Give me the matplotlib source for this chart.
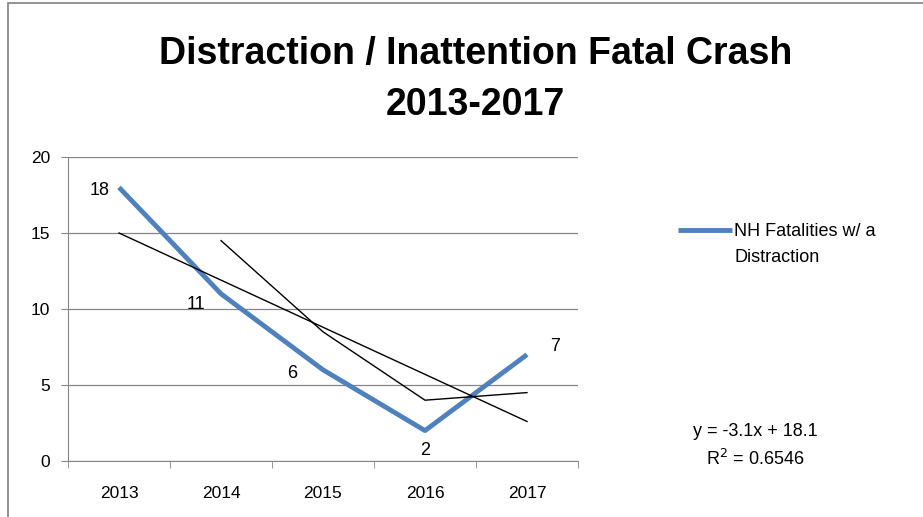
import matplotlib.pyplot as plt
from matplotlib.patches import Rectangle

years = ['2013', '2014', '2015', '2016', '2017']
fatalities = [18, 11, 6, 2, 7]
# linear trend (y = -3.1x + 18.1)
trend = [15.0, 11.9, 8.8, 5.7, 2.6]
# 2-period moving average, starts at 2014
avg_years = ['2014', '2015', '2016', '2017']
moving_avg = [14.5, 8.5, 4.0, 4.5]

plt.rcParams['font.family'] = ['Liberation Sans', 'DejaVu Sans']

fig = plt.figure(figsize=(9.23, 5.17), dpi=100)
ax = fig.add_axes([68 / 923, 1 - 461 / 517, 510 / 923, 304 / 517])

# chart frame (partly cut off in the reference)
fig.patches.append(Rectangle((8 / 923, -0.1), 1.2, 1 - 3 / 517 + 0.1,
                             transform=fig.transFigure, fill=False,
                             edgecolor='#808080', linewidth=1.2))

x = list(range(1, len(years) + 1))
xa = [years.index(y) + 1 for y in avg_years]

ax.plot(x, trend, color='black', linewidth=1.0, zorder=3)
ax.plot(xa, moving_avg, color='black', linewidth=1.0, zorder=3)
ax.plot(x, fatalities, color='#4f81bd', linewidth=3.5, solid_capstyle='butt',
        solid_joinstyle='round', zorder=2, label='NH Fatalities w/ a')

offsets = [(-14, -2), (-18, -8), (-22, -3), (0, -14), (20, 6)]
for xi, v, (dx, dy) in zip(x, fatalities, offsets):
    ax.annotate(str(v), (xi, v), xytext=(dx, dy), textcoords='offset points',
                ha='center', va='center', fontsize=13)

ax.set_xlim(0.5, 5.5)
ax.set_ylim(0, 20)
ax.set_yticks([0, 5, 10, 15, 20])
ax.yaxis.grid(True, color='#868686', linewidth=0.9)
ax.set_axisbelow(True)
ax.set_xticks(x)
ax.set_xticklabels(years)
ax.set_xticks([0.5, 1.5, 2.5, 3.5, 4.5, 5.5], minor=True)
ax.tick_params(axis='x', which='major', length=0, pad=18, labelsize=12.5)
ax.tick_params(axis='x', which='minor', length=5, color='#868686', direction='out')
ax.tick_params(axis='y', length=5, color='#868686', labelsize=12.5, pad=8)
for s in ['top', 'right']:
    ax.spines[s].set_visible(False)
for s in ['left', 'bottom']:
    ax.spines[s].set_color('#868686')

fig.text(0.515, 1 - 54 / 517, 'Distraction / Inattention Fatal Crash',
         ha='center', va='center', fontsize=27, fontweight='bold')
fig.text(0.515, 1 - 105 / 517, '2013-2017',
         ha='center', va='center', fontsize=27, fontweight='bold')

leg = fig.legend(loc='center left', bbox_to_anchor=(662 / 923, 1 - 232 / 517),
                 frameon=False, fontsize=13, handlelength=3.0, handletextpad=0.1)
# second line of the wrapped legend label
fig.canvas.draw()
bb = leg.get_texts()[0].get_window_extent().transformed(fig.transFigure.inverted())
fig.text(bb.x0, 1 - 258 / 517, 'Distraction', ha='left', va='center', fontsize=13)

fig.text(755 / 923, 1 - 432 / 517, 'y = -3.1x + 18.1', ha='center', va='center', fontsize=13)
fig.text(755 / 923, 1 - 459 / 517, 'R$^2$ = 0.6546', ha='center', va='center', fontsize=13)

fig.savefig('out.png', dpi=100)
